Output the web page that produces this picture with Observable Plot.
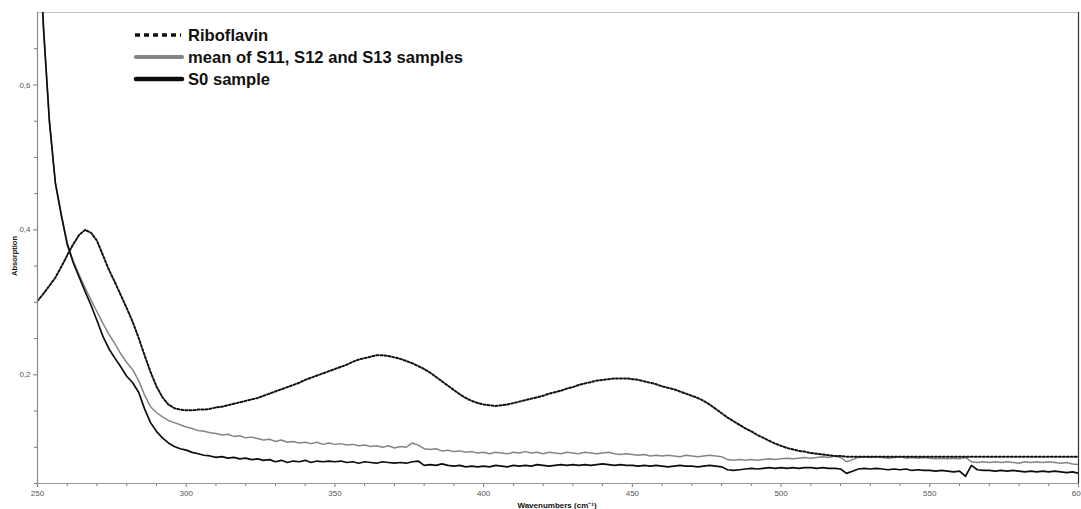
<!DOCTYPE html>
<html><head><meta charset="utf-8">
<script src="https://cdn.jsdelivr.net/npm/d3@7"></script>
<script src="https://cdn.jsdelivr.net/npm/@observablehq/plot@0.6"></script>
<style>
html,body{margin:0;padding:0;background:#fff;overflow:hidden}
#chart{position:relative;width:1081px;height:509px}
#chart svg{display:block}
</style></head><body><div id="chart"></div>
<script>
const wavenumber = [
250,252,254,256,258,260,262,264,266,268,
270,272,274,276,278,280,282,284,286,288,
290,292,294,296,298,300,302,304,306,308,
310,312,314,316,318,320,322,324,326,328,
330,332,334,336,338,340,342,344,346,348,
350,352,354,356,358,360,362,364,366,368,
370,372,374,376,378,380,382,384,386,388,
390,392,394,396,398,400,402,404,406,408,
410,412,414,416,418,420,422,424,426,428,
430,432,434,436,438,440,442,444,446,448,
450,452,454,456,458,460,462,464,466,468,
470,472,474,476,478,480,482,484,486,488,
490,492,494,496,498,500,502,504,506,508,
510,512,514,516,518,520,522,524,526,528,
530,532,534,536,538,540,542,544,546,548,
550,552,554,556,558,560,562,564,566,568,
570,572,574,576,578,580,582,584,586,588,
590,592,594,596,598,600];

const riboflavin = [
0.302,0.312,0.323,0.334,0.349,0.365,0.380,0.393,0.400,0.396,
0.385,0.365,0.345,0.328,0.310,0.292,0.273,0.251,0.227,0.204,
0.184,0.169,0.159,0.154,0.152,0.151,0.151,0.152,0.152,0.153,
0.155,0.156,0.158,0.160,0.162,0.164,0.166,0.168,0.171,0.174,
0.177,0.180,0.183,0.186,0.189,0.193,0.196,0.199,0.202,0.205,
0.208,0.211,0.214,0.218,0.221,0.223,0.225,0.227,0.227,0.226,
0.224,0.222,0.219,0.216,0.212,0.208,0.203,0.197,0.191,0.185,
0.179,0.173,0.168,0.164,0.161,0.159,0.158,0.157,0.158,0.159,
0.161,0.163,0.165,0.167,0.169,0.171,0.174,0.176,0.178,0.181,
0.183,0.186,0.188,0.190,0.192,0.193,0.194,0.195,0.195,0.195,
0.194,0.193,0.191,0.189,0.187,0.184,0.182,0.180,0.177,0.174,
0.171,0.168,0.164,0.159,0.153,0.147,0.141,0.136,0.131,0.126,
0.122,0.117,0.113,0.109,0.105,0.102,0.099,0.097,0.095,0.094,
0.092,0.091,0.090,0.089,0.088,0.088,0.087,0.087,0.087,0.087,
0.087,0.087,0.087,0.087,0.087,0.087,0.087,0.087,0.087,0.087,
0.087,0.087,0.087,0.087,0.087,0.087,0.087,0.087,0.087,0.087,
0.087,0.087,0.087,0.087,0.087,0.087,0.087,0.087,0.087,0.087,
0.087,0.087,0.087,0.087,0.087,0.087];

const meanS11S13 = [
0.86,0.68,0.55,0.465,0.422,0.382,0.357,0.338,0.320,0.303,
0.287,0.271,0.256,0.243,0.229,0.217,0.207,0.192,0.172,0.156,
0.148,0.142,0.137,0.134,0.131,0.128,0.126,0.123,0.122,0.120,
0.119,0.117,0.118,0.115,0.116,0.113,0.114,0.112,0.110,0.111,
0.108,0.110,0.107,0.108,0.106,0.107,0.105,0.107,0.104,0.106,
0.104,0.105,0.103,0.104,0.102,0.103,0.101,0.102,0.100,0.102,
0.099,0.101,0.100,0.106,0.103,0.098,0.097,0.098,0.095,0.096,
0.094,0.095,0.093,0.094,0.092,0.093,0.091,0.093,0.092,0.091,
0.093,0.092,0.094,0.092,0.093,0.091,0.093,0.092,0.091,0.093,
0.092,0.091,0.093,0.092,0.091,0.092,0.093,0.091,0.090,0.091,
0.090,0.089,0.090,0.088,0.089,0.088,0.089,0.088,0.087,0.089,
0.088,0.087,0.088,0.089,0.088,0.087,0.083,0.082,0.083,0.082,
0.083,0.082,0.083,0.084,0.083,0.084,0.085,0.084,0.085,0.086,
0.085,0.086,0.087,0.086,0.088,0.086,0.080,0.083,0.086,0.087,
0.086,0.087,0.086,0.085,0.086,0.087,0.085,0.086,0.085,0.086,
0.085,0.084,0.085,0.084,0.085,0.084,0.086,0.080,0.079,0.080,
0.079,0.080,0.079,0.080,0.079,0.078,0.080,0.079,0.080,0.079,
0.080,0.079,0.078,0.079,0.077,0.076];

const s0Sample = [
0.86,0.68,0.55,0.465,0.420,0.380,0.355,0.335,0.315,0.296,
0.275,0.253,0.236,0.223,0.211,0.198,0.189,0.176,0.153,0.134,
0.122,0.113,0.106,0.101,0.098,0.096,0.093,0.091,0.089,0.088,
0.086,0.087,0.085,0.086,0.084,0.085,0.083,0.084,0.082,0.083,
0.080,0.082,0.079,0.081,0.080,0.082,0.079,0.081,0.080,0.081,
0.080,0.081,0.079,0.080,0.078,0.080,0.079,0.078,0.080,0.079,
0.078,0.079,0.078,0.080,0.081,0.075,0.076,0.075,0.077,0.075,
0.074,0.075,0.073,0.074,0.073,0.074,0.073,0.075,0.074,0.073,
0.075,0.074,0.075,0.074,0.076,0.075,0.074,0.075,0.076,0.075,
0.076,0.075,0.076,0.075,0.076,0.077,0.076,0.075,0.076,0.075,
0.075,0.074,0.075,0.074,0.075,0.074,0.073,0.074,0.075,0.074,
0.074,0.073,0.074,0.075,0.074,0.073,0.069,0.068,0.069,0.070,
0.071,0.070,0.071,0.072,0.071,0.072,0.071,0.072,0.071,0.072,
0.072,0.071,0.072,0.071,0.071,0.070,0.064,0.067,0.070,0.071,
0.070,0.071,0.070,0.069,0.070,0.069,0.070,0.068,0.069,0.068,
0.068,0.067,0.068,0.067,0.066,0.067,0.060,0.075,0.069,0.068,
0.068,0.067,0.068,0.067,0.068,0.067,0.066,0.067,0.066,0.067,
0.066,0.067,0.066,0.065,0.066,0.064];

const xMajorTicks = [250,300,350,400,450,500,550,600];
const xMinorTicks = [260,270,280,290,310,320,330,340,360,370,380,390,410,420,430,440,460,470,480,490,510,520,530,540,560,570,580,590];
const yMajorTicks = [0.2,0.4,0.6];
const yMinorTicks = [0.05,0.1,0.15,0.25,0.3,0.35,0.45,0.5,0.55,0.65];
const seriesNames = ["Riboflavin","mean of S11, S12 and S13 samples","S0 sample"];
const xTitle = "Wavenumbers (cm\u207B\u00B9)";
const yTitle = "Absorption";

const rows = ys => wavenumber.map((x, i) => ({x, y: ys[i]}));
const font = "'Liberation Sans', Arial, sans-serif";

const chart = Plot.plot({
  width: 1081, height: 509,
  marginLeft: 37, marginRight: 3, marginTop: 12, marginBottom: 26,
  style: {fontFamily: font, fontSize: "8px", background: "#fff", color: "#555"},
  x: {domain: [250, 600], label: null},
  y: {domain: [0.05, 0.7], label: null},
  marks: [
    Plot.ruleY([0.7], {stroke: "#c4c4c4", strokeWidth: 1}),
    Plot.ruleX([600], {stroke: "#333", strokeWidth: 1.2}),
    Plot.line(rows(meanS11S13), {x: "x", y: "y", stroke: "#858585", strokeWidth: 1.5, clip: true}),
    Plot.line(rows(s0Sample), {x: "x", y: "y", stroke: "#0d0d0d", strokeWidth: 1.7, clip: true}),
    Plot.line(rows(riboflavin), {x: "x", y: "y", stroke: "#111", strokeWidth: 2, strokeDasharray: "2,2", clip: true}),
    Plot.axisX(xMinorTicks, {tickSize: 3, tickFormat: () => "", stroke: "#777", label: null}),
    Plot.axisX(xMajorTicks, {tickSize: 4, tickPadding: 3, stroke: "#777", fill: "#555", label: null}),
    Plot.axisY(yMinorTicks, {tickSize: 3, tickFormat: () => "", stroke: "#777", label: null}),
    Plot.axisY(yMajorTicks, {tickSize: 4, tickPadding: 3, stroke: "#777", fill: "#555", label: null,
      tickFormat: d => d.toFixed(1).replace(".", ",")}),
    Plot.ruleX([250], {stroke: "#8a8a8a", strokeWidth: 1.2}),
    Plot.ruleY([0.05], {stroke: "#9a9a9a", strokeWidth: 1.2})
  ]
});
document.getElementById("chart").appendChild(chart);

const svg = d3.select(chart);
svg.append("text")
  .attr("transform", "translate(14,256) rotate(-90)")
  .attr("text-anchor", "middle").attr("dy", "0.35em")
  .style("font", "bold 7.5px " + font).attr("fill", "#111")
  .text(yTitle);
svg.append("text")
  .attr("x", 557).attr("y", 505)
  .attr("text-anchor", "middle").attr("dy", "0.35em")
  .style("font", "bold 8px " + font).attr("fill", "#111")
  .text(xTitle);

const leg = svg.append("g").attr("text-anchor", "start");
const legendStyles = [
  {stroke: "#111", width: 3.6, dash: "5,4", cap: "butt"},
  {stroke: "#858585", width: 4.2, dash: null, cap: "round"},
  {stroke: "#0d0d0d", width: 4.6, dash: null, cap: "round"}
];
seriesNames.forEach((name, i) => {
  const yy = 35 + i * 22;
  const s = legendStyles[i];
  const ln = leg.append("line")
    .attr("x1", i === 0 ? 135 : 136).attr("x2", i === 0 ? 181 : 182)
    .attr("y1", yy).attr("y2", yy)
    .attr("stroke", s.stroke).attr("stroke-width", s.width)
    .attr("stroke-linecap", s.cap);
  if (s.dash) ln.attr("stroke-dasharray", s.dash);
  leg.append("text")
    .attr("x", 188).attr("y", yy).attr("dy", "0.35em")
    .attr("text-anchor", "start")
    .style("font", "bold 16.6px " + font).attr("fill", "#111")
    .text(name);
});
</script>
</body></html>
